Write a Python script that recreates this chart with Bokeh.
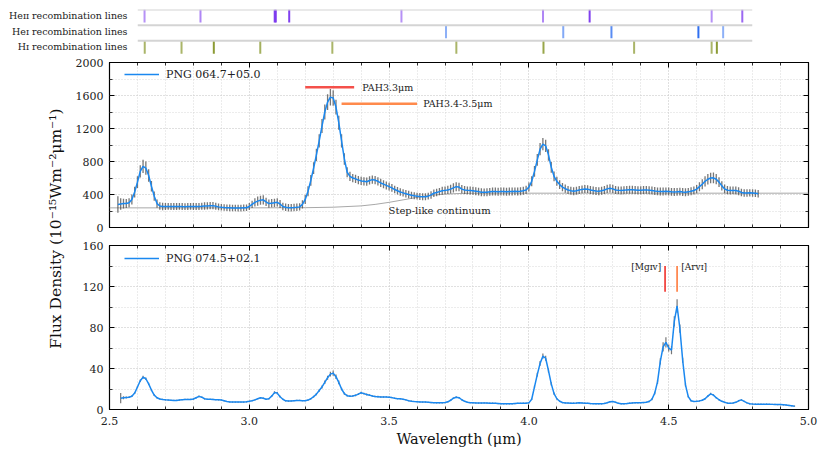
import numpy as np
from bokeh.plotting import figure
from bokeh.layouts import column, row
from bokeh.models import (Range1d, FixedTicker, LinearAxis, Span, Label,
                          PrintfTickFormatter, CustomJSTickFormatter, ColumnDataSource)
from bokeh.embed import file_html
from bokeh.resources import INLINE

FONT = "DejaVu Serif"
BLUE = "#1a88f0"

# ---------------- data ----------------
# recombination lines (micron)
heii_lines = [2.6252, 2.8253, 3.0908, 3.0947, 3.1427, 3.5442, 4.0506, 4.2174, 4.6539, 4.7635]
heii_alpha = [0.55, 0.6, 0.95, 0.95, 0.95, 0.55, 0.6, 0.95, 0.55, 0.75]
hei_lines = [3.7036, 4.1230, 4.2954, 4.6065, 4.6950]
hei_alpha = [0.55, 0.6, 0.8, 1.0, 0.55]
hi_lines = [2.6259, 2.7575, 2.8730, 3.0392, 3.2970, 3.7406, 4.0523, 4.3765, 4.6538, 4.6725]
hi_alpha = [0.7, 0.7, 0.95, 0.75, 0.7, 0.7, 0.85, 0.7, 0.7, 0.95]
strip_names = ["Heɪɪ recombination lines", "Heɪ recombination lines", "Hɪ recombination lines"]

# PNG 064.7+05.0 : wavelength grid start/step and flux (1e-15 W m^-2 um^-1)
up_start, up_step = 2.53, 0.01
up_flux = [
    280, 285, 290, 290, 300, 340, 430, 550, 680, 740,
    720, 630, 500, 380, 290, 260, 255, 254, 256, 255,
    254, 255, 256, 254, 253, 255, 256, 255, 254, 255,
    257, 260, 262, 265, 265, 258, 250, 245, 242, 240,
    238, 236, 236, 235, 235, 238, 240, 255, 280, 305,
    320, 330, 335, 310, 290, 295, 300, 305, 285, 255,
    245, 240, 240, 242, 245, 250, 280, 340, 440, 570,
    720, 880, 1050, 1230, 1400, 1520, 1580, 1570, 1460, 1270,
    1050, 830, 670, 620, 600, 590, 575, 565, 560, 555,
    570, 580, 575, 560, 540, 525, 510, 495, 480, 460,
    445, 430, 420, 410, 400, 392, 385, 380, 375, 372,
    372, 380, 395, 415, 425, 435, 445, 450, 455, 465,
    480, 495, 490, 465, 455, 450, 448, 445, 440, 435,
    428, 426, 428, 432, 436, 436, 434, 436, 436, 434,
    436, 436, 438, 436, 440, 445, 455, 490, 560, 680,
    820, 950, 1010, 990, 880, 730, 620, 560, 520, 490,
    470, 455, 445, 440, 445, 455, 462, 466, 465, 455,
    448, 442, 440, 445, 455, 468, 475, 468, 455, 450,
    448, 452, 456, 458, 458, 455, 452, 452, 455, 456,
    452, 448, 442, 438, 436, 436, 438, 436, 432, 430,
    432, 435, 430, 428, 432, 440, 448, 465, 495, 525,
    560, 585, 600, 602, 585, 550, 505, 468, 452, 448,
    450, 448, 440, 425, 418, 418, 420, 418, 415, 410,
]
up_err = [
    100, 70, 60, 55, 55, 60, 65, 70, 75, 80,
    80, 75, 65, 55, 50, 45, 45, 42, 42, 42,
    42, 42, 42, 42, 42, 42, 42, 42, 42, 42,
    42, 45, 45, 45, 45, 42, 42, 40, 40, 40,
    40, 40, 40, 40, 40, 40, 40, 42, 45, 50,
    55, 55, 55, 50, 50, 50, 50, 50, 48, 45,
    45, 45, 45, 45, 45, 45, 50, 55, 60, 65,
    70, 75, 80, 85, 90, 95, 100, 95, 90, 85,
    80, 70, 60, 55, 50, 50, 50, 50, 50, 50,
    50, 50, 50, 50, 50, 48, 48, 48, 48, 45,
    45, 45, 45, 45, 45, 42, 42, 42, 42, 42,
    42, 42, 45, 45, 45, 45, 48, 48, 50, 52,
    55, 55, 52, 50, 48, 48, 48, 48, 48, 48,
    48, 48, 48, 48, 48, 48, 48, 48, 48, 48,
    48, 48, 48, 48, 48, 48, 50, 55, 60, 65,
    70, 75, 75, 75, 70, 65, 60, 55, 52, 50,
    50, 48, 48, 48, 48, 48, 48, 48, 48, 48,
    48, 48, 48, 48, 48, 50, 50, 50, 48, 48,
    48, 48, 48, 48, 48, 48, 48, 48, 48, 48,
    48, 48, 48, 48, 48, 48, 48, 48, 48, 48,
    48, 48, 48, 48, 48, 48, 48, 50, 55, 60,
    62, 65, 65, 65, 62, 60, 55, 52, 50, 48,
    48, 48, 48, 45, 45, 45, 45, 45, 45, 45,
]
# step-like continuum
cont_wl = [2.50, 3.00, 3.20, 3.30, 3.40, 3.45, 3.50, 3.55, 3.60, 3.65, 3.70, 3.75, 3.80, 3.90, 5.00]
cont_flux = [238, 238, 240, 246, 262, 280, 305, 335, 365, 390, 405, 412, 415, 416, 416]
# PAH bands
pah_names = ["PAH3.3μm", "PAH3.4-3.5μm"]
pah_start = [3.20, 3.33]
pah_end = [3.375, 3.60]
pah_level = [1700, 1500]
pah_colors = ["#f4504a", "#ff8a4c"]

# PNG 074.5+02.1
lo_start, lo_step = 2.54, 0.01
lo_flux = [
    11, 11.5, 11.8, 12, 13, 16, 22, 28, 31.5, 30,
    25, 19, 14, 11.5, 10.3, 9.8, 9.4, 9.2, 9, 8.8,
    8.8, 9.2, 9.6, 9.8, 9.8, 9.8, 10.2, 11.5, 12.8, 12,
    10.5, 10, 10, 9.8, 9.6, 9.5, 9.2, 8.5, 7.8, 7.4,
    7.2, 7.2, 7.3, 7.2, 7.2, 7.5, 8, 8.6, 9.4, 10.5,
    11.5, 11, 10, 10.5, 13, 16.5, 16, 12.5, 10, 8.5,
    8.2, 8.4, 8.6, 8.8, 8.8, 8.6, 8.6, 9.2, 10.5, 12.5,
    15, 18.5, 22, 26.5, 31, 34.5, 35.5, 32, 26.5, 20,
    15.5, 13.5, 13, 13.2, 13.8, 15, 16.3, 15.5, 14.6, 14,
    13.2, 12.7, 12.5, 12.2, 12.2, 12.3, 12, 11.6, 11, 10.6,
    10.4, 10, 9.4, 8.6, 8.1, 7.8, 7.6, 7.4, 7.3, 7.2,
    7, 6.8, 6.6, 6.5, 6.5, 6.5, 6.8, 7.5, 9, 11,
    12, 11.5, 9.5, 8, 7, 6.6, 6.5, 6.4, 6.3, 6.3,
    6.4, 6.3, 6.2, 6.2, 6, 5.8, 5.6, 5.5, 5.5, 5.5,
    5.6, 5.8, 6, 6.1, 6.2, 6.2, 6.5, 10, 22, 34,
    45, 52, 50, 38, 25, 15.5, 10.5, 8, 6.8, 6.4,
    6.3, 6.2, 6.2, 6.3, 6.5, 6.4, 6.2, 6, 5.8, 5.7,
    5.6, 5.5, 5.6, 5.9, 6.6, 7.5, 7.8, 7, 6, 5.5,
    5.6, 5.8, 6.2, 6.4, 6.5, 6.5, 6.6, 6.8, 7, 7.8,
    10, 16, 27, 47, 61, 65.5, 60, 58, 86, 101,
    79, 48, 24, 12.5, 8.5, 7.8, 8, 8.4, 9, 10.5,
    13, 15.3, 14, 11.5, 9.5, 8, 7, 6.2, 6, 6.3,
    7, 8.5, 9.4, 8, 6.5, 5.6, 5.3, 5.2, 5.2, 5.2,
    5.1, 5.2, 5.1, 5, 4.9, 4.8, 4.8, 4.6, 4.3, 4,
    3.6, 3.2,
]
lo_err = [
    5, 1.5, 1, 0.9, 0.8, 0.8, 1, 1.2, 1.5, 1.3,
    1.2, 1, 0.8, 0.7, 0.6, 0.6, 0.6, 0.6, 0.6, 0.6,
    0.6, 0.6, 0.6, 0.6, 0.6, 0.6, 0.6, 0.7, 0.8, 0.8,
    0.7, 0.6, 0.6, 0.6, 0.6, 0.6, 0.6, 0.6, 0.6, 0.6,
    0.6, 0.6, 0.6, 0.6, 0.6, 0.6, 0.6, 0.6, 0.6, 0.6,
    0.7, 0.7, 0.6, 0.7, 0.9, 1.2, 1.1, 0.8, 0.6, 0.6,
    0.6, 0.6, 0.6, 0.6, 0.6, 0.6, 0.6, 0.6, 0.7, 0.8,
    1, 1.2, 1.4, 1.7, 2, 2.4, 2.5, 2.2, 1.8, 1.3,
    1, 0.9, 0.8, 0.8, 0.8, 0.9, 1, 0.9, 0.9, 0.8,
    0.8, 0.8, 0.8, 0.7, 0.7, 0.7, 0.7, 0.7, 0.7, 0.7,
    0.6, 0.6, 0.6, 0.6, 0.6, 0.6, 0.6, 0.6, 0.6, 0.6,
    0.6, 0.6, 0.6, 0.6, 0.6, 0.6, 0.6, 0.6, 0.7, 0.8,
    0.9, 0.8, 0.7, 0.6, 0.6, 0.6, 0.6, 0.6, 0.6, 0.6,
    0.6, 0.6, 0.6, 0.6, 0.6, 0.6, 0.6, 0.6, 0.6, 0.6,
    0.6, 0.6, 0.6, 0.6, 0.6, 0.6, 0.6, 0.8, 1.3, 1.8,
    2.2, 2.6, 2.5, 2, 1.5, 1, 0.8, 0.6, 0.6, 0.6,
    0.6, 0.6, 0.6, 0.6, 0.6, 0.6, 0.6, 0.6, 0.6, 0.6,
    0.6, 0.6, 0.6, 0.6, 0.6, 0.6, 0.6, 0.6, 0.6, 0.6,
    0.6, 0.6, 0.6, 0.6, 0.6, 0.6, 0.6, 0.6, 0.6, 0.7,
    0.9, 1.3, 2, 3, 4.5, 5, 3.5, 4, 5, 6.5,
    4, 2.5, 1.5, 0.9, 0.7, 0.6, 0.6, 0.6, 0.7, 0.8,
    0.9, 1, 0.9, 0.8, 0.7, 0.6, 0.6, 0.6, 0.6, 0.6,
    0.6, 0.7, 0.7, 0.6, 0.6, 0.6, 0.6, 0.6, 0.6, 0.6,
    0.6, 0.6, 0.6, 0.6, 0.6, 0.6, 0.6, 0.6, 0.6, 0.6,
    0.6, 0.6,
]
ion_names = ["[Mgɪᴠ]", "[Arᴠɪ]"]
ion_wl = [4.487, 4.530]
ion_colors = ["#f0302a", "#ff7a3c"]

up_wl = np.round(up_start + up_step * np.arange(len(up_flux)), 3)
lo_wl = np.round(lo_start + lo_step * np.arange(len(lo_flux)), 3)
up_flux = np.array(up_flux, float); up_err = np.array(up_err, float)
lo_flux = np.array(lo_flux, float); lo_err = np.array(lo_err, float)

# ---------------- strip panel ----------------
strip = figure(width=830, height=56, x_range=Range1d(2.6, 4.8), y_range=Range1d(-0.62, 2.38),
               output_backend="svg", toolbar_location=None,
               min_border_left=137, min_border_right=78, min_border_top=9, min_border_bottom=0,
               x_axis_location=None)
strip.grid.visible = False
strip.outline_line_color = None
strip.background_fill_color = None
strip.border_fill_color = None
ya = strip.yaxis[0]
ya.ticker = FixedTicker(ticks=[2, 1, 0])
ya.major_label_overrides = {2: strip_names[0], 1: strip_names[1], 0: strip_names[2]}
ya.axis_line_color = None
ya.major_tick_line_color = None
ya.minor_tick_line_color = None
ya.major_label_text_font = FONT
ya.major_label_text_font_size = "9.5px"
ya.major_label_text_color = "#222222"
ya.major_label_standoff = 4

strip_sets = [(heii_lines, heii_alpha, "#7a36ee"), (hei_lines, hei_alpha, "#2f6ff0"), (hi_lines, hi_alpha, "#86962a")]
for k, (lines, alphas, col) in enumerate(strip_sets):
    top = 2.38 - k
    strip.add_layout(Span(location=top, dimension="width", line_color="#d4d4d4", line_width=2))
    src = ColumnDataSource(dict(x=lines, y0=[top] * len(lines), y1=[top - 0.83] * len(lines), a=alphas))
    strip.segment(x0="x", y0="y0", x1="x", y1="y1", source=src, line_color=col, line_alpha="a", line_width=2)

# ---------------- main panels ----------------
x_major = [2.5, 3.0, 3.5, 4.0, 4.5, 5.0]
x_minor = [round(2.5 + 0.1 * i, 2) for i in range(26)]

def style_axis(ax, ticker, labels, fmt=None):
    ax.ticker = ticker
    ax.axis_line_color = None
    ax.major_tick_in = 5
    ax.major_tick_out = 0
    ax.minor_tick_in = 3
    ax.minor_tick_out = 0
    ax.major_tick_line_color = "black"
    ax.minor_tick_line_color = "black"
    ax.major_tick_line_width = 1
    ax.minor_tick_line_width = 0.8
    if labels:
        ax.major_label_text_font = FONT
        ax.major_label_text_font_size = "11px"
        ax.major_label_text_color = "#222222"
        if fmt is not None:
            ax.formatter = fmt
    else:
        ax.formatter = CustomJSTickFormatter(code="return ''")
        ax.major_label_text_font_size = "1px"
        ax.major_label_standoff = 0


def make_panel(height, ymax, y_major, y_minor, top, bottom, xlabels):
    p = figure(width=760, height=height, x_range=Range1d(2.5, 5.0), y_range=Range1d(0, ymax),
               output_backend="svg", toolbar_location=None,
               min_border_left=39, min_border_right=22, min_border_top=top, min_border_bottom=bottom)
    p.outline_line_color = "black"
    p.outline_line_width = 1.2
    p.background_fill_color = None
    p.border_fill_color = None
    xt = FixedTicker(ticks=x_major, minor_ticks=x_minor)
    yt = FixedTicker(ticks=y_major, minor_ticks=y_minor)
    bx = p.below[0]
    ly = p.left[0]
    style_axis(bx, xt, xlabels, PrintfTickFormatter(format="%.1f"))
    style_axis(ly, yt, True)
    ly.major_label_standoff = 6
    if xlabels:
        bx.major_label_standoff = 7
    ra = LinearAxis(); p.add_layout(ra, "right"); style_axis(ra, yt, False)
    ta = LinearAxis(); p.add_layout(ta, "above"); style_axis(ta, xt, False)
    for g, t in ((p.xgrid[0], xt), (p.ygrid[0], yt)):
        g.ticker = t
        g.grid_line_color = "#cfcfcf"
        g.grid_line_dash = "1 2"
        g.grid_line_width = 0.8
        g.minor_grid_line_color = "#cfcfcf"
        g.minor_grid_line_dash = "1 2"
        g.minor_grid_line_width = 0.8
    return p, bx


def style_legend(p, vy):
    lg = p.legend[0]
    lg.location = (15, vy)
    lg.margin = 0
    lg.padding = 0
    lg.border_line_color = None
    lg.background_fill_alpha = 0
    lg.glyph_width = 35
    lg.glyph_height = 16
    lg.label_height = 16
    lg.label_standoff = 7
    lg.label_text_font = FONT
    lg.label_text_font_size = "11px"
    lg.label_text_color = "#222222"


# upper panel
pu, _ = make_panel(180, 2000, [0, 400, 800, 1200, 1600, 2000], list(range(0, 2001, 200)), 6, 9, False)
pu.line(cont_wl, cont_flux, line_color="#a8a8a8", line_width=1)
pu.segment(x0=up_wl, y0=up_flux - up_err, x1=up_wl, y1=up_flux + up_err,
           line_color="#4a4a4a", line_alpha=0.75, line_width=1.3)
pu.line(up_wl, up_flux, line_color=BLUE, line_width=1.5, legend_label="PNG 064.7+05.0")
pu.segment(x0=pah_start, y0=pah_level, x1=pah_end, y1=pah_level, line_color=pah_colors, line_width=2.5)
pu.add_layout(Label(x=3.404, y=1700, text=pah_names[0], text_baseline="middle",
                    text_font=FONT, text_font_size="9.5px", text_color="#222222"))
pu.add_layout(Label(x=3.622, y=1500, text=pah_names[1], text_baseline="middle",
                    text_font=FONT, text_font_size="9.5px", text_color="#222222"))
pu.add_layout(Label(x=3.498, y=206, text="Step-like continuum", text_baseline="middle",
                    text_font=FONT, text_font_size="10px", text_color="#222222"))
style_legend(pu, 145)

# lower panel
pl, plx = make_panel(213, 160, [0, 40, 80, 120, 160], list(range(0, 161, 20)), 9, 40, True)
pl.segment(x0=lo_wl, y0=lo_flux - lo_err, x1=lo_wl, y1=lo_flux + lo_err,
           line_color="#4a4a4a", line_alpha=0.75, line_width=1.2)
pl.line(lo_wl, lo_flux, line_color=BLUE, line_width=1.5, legend_label="PNG 074.5+02.1")
pl.segment(x0=ion_wl, y0=[115, 115], x1=ion_wl, y1=[140, 140], line_color=ion_colors, line_width=1.6)
pl.add_layout(Label(x=4.473, y=139.5, text=ion_names[0], text_align="right", text_baseline="middle",
                    text_font=FONT, text_font_size="9px", text_color="#222222"))
pl.add_layout(Label(x=4.545, y=139.5, text=ion_names[1], text_align="left", text_baseline="middle",
                    text_font=FONT, text_font_size="9px", text_color="#222222"))
plx.axis_label = "Wavelength (μm)"
plx.axis_label_text_font = FONT
plx.axis_label_text_font_size = "14.5px"
plx.axis_label_text_font_style = "normal"
plx.axis_label_text_color = "#111111"
plx.axis_label_standoff = 3
style_legend(pl, 143)

# y label panel
lab = figure(width=70, height=393, x_range=Range1d(0, 1), y_range=Range1d(0, 1),
             output_backend="svg", toolbar_location=None, min_border=0,
             x_axis_location=None, y_axis_location=None)
lab.grid.visible = False
lab.outline_line_color = None
lab.background_fill_color = None
lab.border_fill_color = None
lab.add_layout(Label(x=0.786, y=0.562, text="Flux Density (10⁻¹⁵Wm⁻²μm⁻¹)", angle=np.pi / 2,
                     text_align="center", text_baseline="middle", text_font=FONT,
                     text_font_size="15.5px", text_color="#111111"))

layout = column(strip, row(lab, column(pu, pl)))
open("out.html", "w").write(file_html(layout, INLINE))
